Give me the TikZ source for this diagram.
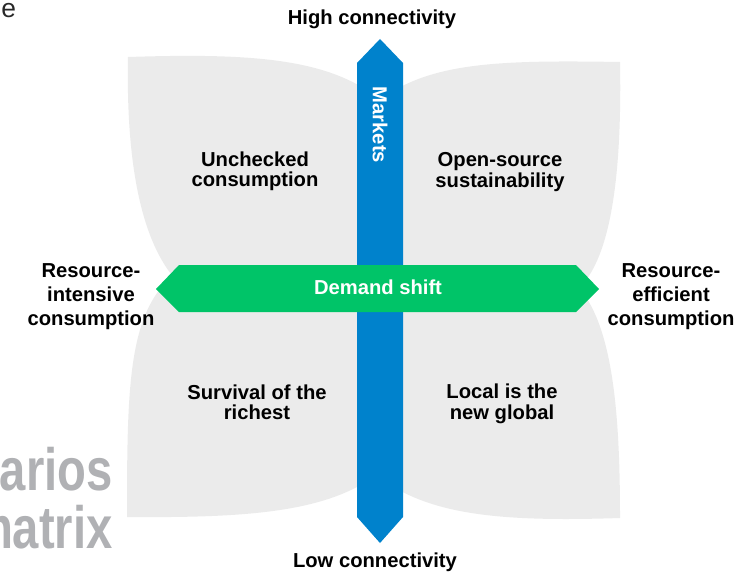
\documentclass[tikz,border=0pt]{standalone}
\usepackage{fontspec}
\setmainfont{Liberation Sans}
\definecolor{quadgray}{RGB}{235,235,235}
\definecolor{markblue}{RGB}{0,130,204}
\definecolor{shiftgreen}{RGB}{0,196,104}
\definecolor{titlegray}{RGB}{176,177,180}
\definecolor{fraggray}{RGB}{40,40,40}

\begin{document}
\begin{tikzpicture}[x=0.02cm,y=-0.02cm,
  quad/.style={fill=quadgray},
  lbl/.style={text=black,align=center,font=\fontsize{11.5}{11.6}\selectfont\bfseries},
  axis/.style={text=black,align=center,font=\fontsize{11.5}{13.6}\selectfont\bfseries},
  onbar/.style={text=white,font=\fontsize{11.5}{11.6}\selectfont\bfseries},
  big/.style={text=titlegray,anchor=base east,font=\fontsize{34}{34}\selectfont\bfseries}]

\useasboundingbox (0,0) rectangle (746,571);

% quadrants:
\fill[quad] (128,57) .. controls (250,53) and (330,58) .. (380,100) -- (380,289) -- (185,289) .. controls (140,250) and (126,160) .. cycle;
\fill[quad] (620,62) .. controls (500,60) and (430,62) .. (380,100) -- (380,289) -- (578,289) .. controls (612,258) and (622,170) .. cycle;
\fill[quad] (127,517) .. controls (250,518) and (330,512) .. (380,472) -- (380,289) -- (160,289) .. controls (128,330) and (127,400) .. cycle;
\fill[quad] (620,518) .. controls (500,522) and (430,515) .. (380,478) -- (380,289) -- (580,289) .. controls (614,330) and (620,420) .. cycle;

% bars:
\fill[markblue] (380,39) -- (403,63) -- (403,517) -- (380,543) -- (357,517) -- (357,63) -- cycle;
\fill[shiftgreen] (156,289) -- (179,265) -- (576,265) -- (599,289) -- (576,312) -- (179,312) -- cycle;
\path (380,125) node[onbar,rotate=-90] (mkt) {Markets};
\path (378,287) node[onbar] (shift) {Demand shift};

% quadrant labels:
\path (255,171) node[lbl] (unchk) {Unchecked\\consumption};
\path (500,172) node[lbl] (opensrc) {Open-source\\sustainability};
\path (257,402) node[lbl] (surv) {Survival of the\\richest};
\path (502,404) node[lbl] (local) {Local is the\\new global};

% axis ends:
\path (372,19) node[lbl] (hiconn) {High connectivity};
\path (375,562) node[lbl] (loconn) {Low connectivity};
\path (91,297) node[axis] (intens) {Resource-\\intensive\\consumption};
\path (671,297) node[axis] (effic) {Resource-\\efficient\\consumption};

% cut-off title:
\path (1,18) node[anchor=base west,inner sep=0pt,text=fraggray,font=\fontsize{15}{15}\selectfont] (frag) {e};
\begin{scope}
\clip (0,0) rectangle (746,571);
\path (113,490) node[big,inner sep=0pt] (scen) {\scalebox{0.79}[1]{arios}};
\path (113,548) node[big,inner sep=0pt] (mtx) {\scalebox{0.79}[1]{matrix}};
\end{scope}

\end{tikzpicture}
\end{document}
